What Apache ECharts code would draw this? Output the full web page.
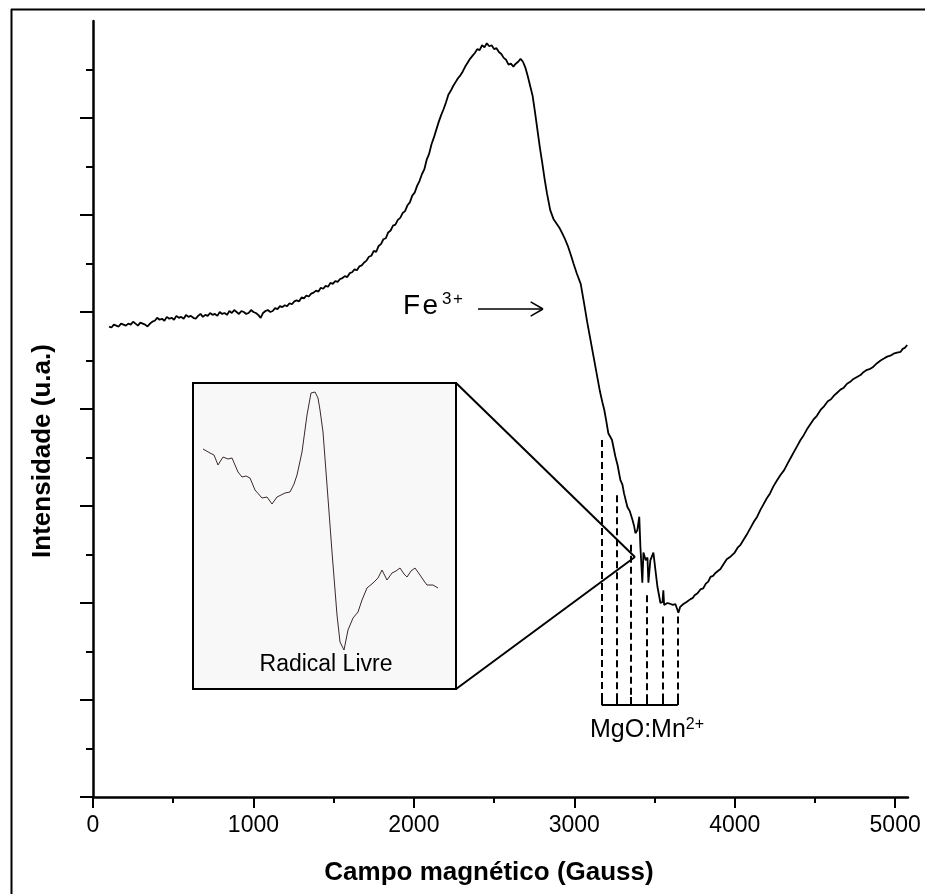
<!DOCTYPE html>
<html>
<head>
<meta charset="utf-8">
<script src="https://cdn.jsdelivr.net/npm/echarts@6/dist/echarts.min.js"></script>
<style>
html,body{margin:0;padding:0;background:#fff;}
#chart{width:925px;height:894px;}
</style>
</head>
<body>
<div id="chart"></div>
<script>
// Main EPR spectrum, split in segments: magnetic field (Gauss) / intensity (a.u.)
var baseField = [100,115,130,145,160,175,190,205,220,235,250,265,280,295,310,325,340,355,370,385,400,415,430,445,460,475,490,505,520,535,550,565,580,595,610,625,640,655,670,685,700,715,730,745,760,775,790,805,820,835,850,865,880,895,910,925,940,955,970,985,1000,1015,1030,1045,1060,1075,1090,1105,1120,1135,1150,1165,1180,1195,1210,1225,1240,1255,1270,1285,1300,1315,1330,1345,1360,1375,1390,1405,1420,1435,1450,1465,1480,1495,1510,1525,1540,1555,1570,1585,1600,1615,1630,1645,1660,1675,1690,1705,1720,1735,1750,1765,1780,1795,1810,1825,1840,1855,1870,1885,1900];
var baseIntensity = [4.85,4.84,4.87,4.86,4.85,4.88,4.87,4.86,4.88,4.87,4.90,4.88,4.86,4.89,4.88,4.87,4.85,4.88,4.90,4.91,4.94,4.92,4.93,4.91,4.95,4.93,4.94,4.92,4.96,4.94,4.95,4.93,4.97,4.95,4.96,4.94,4.93,4.96,4.98,4.95,4.97,4.96,4.99,4.97,4.98,4.96,5.00,4.98,4.99,4.97,5.01,4.99,5.02,5.00,4.98,5.01,5.00,4.98,4.99,5.02,5.00,4.99,4.97,4.94,4.99,5.01,5.02,5.00,5.01,5.04,5.03,5.06,5.05,5.07,5.06,5.09,5.08,5.11,5.12,5.11,5.15,5.14,5.17,5.16,5.19,5.20,5.22,5.21,5.25,5.24,5.27,5.26,5.30,5.29,5.32,5.31,5.34,5.35,5.37,5.36,5.40,5.41,5.44,5.43,5.47,5.48,5.51,5.53,5.57,5.58,5.63,5.62,5.68,5.70,5.75,5.76,5.82,5.84,5.89,5.90,5.95];

var peakField = [1915,1930,1945,1960,1975,1990,2005,2020,2035,2050,2065,2080,2095,2110,2125,2140,2155,2170,2185,2200,2215,2230,2245,2260,2275,2290,2305,2320,2335,2350,2365,2380,2395,2410,2425,2440,2455,2470,2485,2500,2515,2530,2545,2560,2575,2590,2605,2620,2635,2650,2665,2680,2695,2710,2725,2740,2755,2770,2785,2800,2815,2830,2850,2870,2890,2910,2925,2940,2960,2980,2995,3015,3040,3060,3080,3100,3120,3140,3160,3175,3187,3200,3212];
var peakIntensity = [5.97,6.02,6.04,6.10,6.13,6.20,6.23,6.30,6.35,6.42,6.47,6.57,6.63,6.73,6.80,6.88,6.96,7.03,7.09,7.16,7.24,7.28,7.33,7.37,7.41,7.44,7.48,7.53,7.57,7.61,7.64,7.67,7.71,7.70,7.75,7.73,7.77,7.74,7.75,7.71,7.72,7.68,7.66,7.62,7.60,7.55,7.56,7.53,7.56,7.58,7.61,7.58,7.52,7.43,7.33,7.23,7.06,6.88,6.70,6.54,6.37,6.22,6.05,5.96,5.91,5.86,5.81,5.76,5.68,5.58,5.50,5.40,5.29,5.10,4.90,4.72,4.54,4.36,4.18,4.07,3.99,3.87,3.75];

var mnField = [3235,3256,3270,3287,3300,3310,3331,3345,3362,3372,3381,3393,3405,3412,3424,3431,3445,3456,3462,3474,3493,3505,3518,3537,3550,3555,3560,3580,3600,3615,3630,3649];
var mnIntensity = [3.68,3.51,3.42,3.27,3.22,3.13,2.99,2.95,2.86,2.80,2.72,2.75,2.89,2.58,2.21,2.52,2.44,2.47,2.21,2.44,2.52,2.35,2.17,2.00,2.01,2.13,1.98,2.00,1.99,1.98,1.99,1.90];

var tailField = [3660,3680,3700,3712,3724,3737,3750,3768,3786,3803,3820,3835,3849,3865,3880,3895,3911,3930,3950,3975,4000,4018,4036,4058,4080,4100,4120,4140,4160,4180,4200,4220,4240,4262,4285,4308,4330,4350,4370,4390,4410,4430,4450,4470,4490,4512,4535,4558,4580,4600,4620,4640,4659,4680,4700,4720,4740,4762,4784,4802,4820,4840,4860,4885,4909,4930,4950,4970,4990,5012,5034,5047,5060,5075];
var tailIntensity = [1.96,1.99,2.01,1.99,2.04,2.05,2.08,2.10,2.14,2.15,2.20,2.22,2.27,2.28,2.31,2.33,2.35,2.40,2.45,2.48,2.52,2.57,2.60,2.66,2.72,2.78,2.84,2.89,2.96,3.02,3.08,3.13,3.20,3.26,3.32,3.37,3.44,3.50,3.56,3.62,3.68,3.73,3.79,3.84,3.89,3.93,3.99,4.03,4.08,4.10,4.14,4.17,4.20,4.22,4.26,4.28,4.31,4.33,4.35,4.38,4.40,4.41,4.43,4.47,4.50,4.52,4.54,4.55,4.57,4.58,4.59,4.62,4.63,4.66];

// Inset (free radical) signal, arbitrary units
var insetX = [10,17,21,25,30,35,39,45,49,53,57,62,69,74,79,84,88,92,97,101,104,109,114,118,122,125,127,130,134,139,144,147,151,155,160,165,169,174,180,185,189,194,199,203,207,211,214,218,222,227,231,234,240,245];
var insetY = [240,236,234,224,232,230,231,217,212,213,211,199,191,192,185,192,194,196,197,205,214,237,274,296,297,291,279,257,204,137,74,47,39,59,71,77,89,101,106,111,119,109,116,118,121,115,112,118,121,114,108,104,104,101];

// Axis ticks
var xMajorTicks = [0,1000,2000,3000,4000,5000];
var xMinorTicks = [500,1500,2500,3500,4500];
var yMajorTicks = [0,1,2,3,4,5,6,7];
var yMinorTicks = [0.5,1.5,2.5,3.5,4.5,5.5,6.5,7.5];

// Mn2+ hyperfine line positions (Gauss) and top of each dashed marker
var mnLines = [3171,3266,3354,3454,3549,3645];
var mnTops = [3.68,3.11,2.60,2.08,1.86,1.86];

function pairs(xs, ys){ return xs.map(function(x,i){return [x, ys[i]];}); }
var mainData = [].concat(pairs(baseField, baseIntensity), pairs(peakField, peakIntensity), pairs(mnField, mnIntensity), pairs(tailField, tailIntensity));
var insetData = pairs(insetX, insetY);

var mlines = [];
var dashStyle = {type:[7,4], width:2, color:'#000'};
var solid = {type:'solid', width:2, color:'#000'};
mnLines.forEach(function(x,i){
  mlines.push([{coord:[x,mnTops[i]], lineStyle:dashStyle},{coord:[x,1.03]}]);
  mlines.push([{coord:[x,1.03], lineStyle:solid},{coord:[x,0.948]}]);
});
mlines.push([{coord:[mnLines[0],0.948], lineStyle:solid},{coord:[mnLines[5],0.948]}]);
// Zoom connector lines from inset to spectrum
mlines.push([{coord:[2263,4.268], lineStyle:solid},{coord:[3378,2.474]}]);
mlines.push([{coord:[2263,1.113], lineStyle:solid},{coord:[3378,2.474]}]);
// Fe3+ arrow
var thin = {type:'solid', width:1.5, color:'#000'};
mlines.push([{coord:[2400,5.031], lineStyle:thin},{coord:[2805,5.031]}]);
mlines.push([{coord:[2728,5.105], lineStyle:thin},{coord:[2805,5.031]}]);
mlines.push([{coord:[2728,4.957], lineStyle:thin},{coord:[2805,5.031]}]);

var FONT = '"Liberation Sans", Arial, sans-serif';
var chart = echarts.init(document.getElementById('chart'), null, {renderer:'canvas'});
var axisCommonY = {type:'value', min:0, max:8, position:'left', offset:0, splitLine:{show:false}, axisLabel:{show:false}};
var axisCommonX = {type:'value', min:0, max:5080, position:'bottom', offset:0, splitLine:{show:false}};
chart.setOption({
  animation:false,
  backgroundColor:'#fff',
  grid:[
    {left:93, right:17, top:21, bottom:97, show:false},
    {left:193, top:383, width:263, height:306, show:true, backgroundColor:'#f8f8f8', borderColor:'#000', borderWidth:2}
  ],
  xAxis:[
    Object.assign({}, axisCommonX, {gridIndex:0, interval:1000,
      axisLine:{show:true, lineStyle:{color:'#000', width:2.5}},
      axisTick:{show:true, customValues:xMajorTicks, length:11, lineStyle:{color:'#000', width:2}},
      axisLabel:{show:true, customValues:xMajorTicks, fontSize:23, color:'#000', margin:17, fontFamily:FONT,
        formatter:function(v){return String(v);}}}),
    Object.assign({}, axisCommonX, {gridIndex:0, interval:1000,
      axisLine:{show:false},
      axisTick:{show:true, customValues:xMinorTicks, length:6, lineStyle:{color:'#000', width:2}},
      axisLabel:{show:false}}),
    {type:'value', gridIndex:1, min:0, max:263, show:false, splitLine:{show:false}}
  ],
  yAxis:[
    Object.assign({}, axisCommonY, {gridIndex:0, interval:1,
      axisLine:{show:true, lineStyle:{color:'#000', width:2.5}},
      axisTick:{show:true, customValues:yMajorTicks, length:13, lineStyle:{color:'#000', width:2}}}),
    Object.assign({}, axisCommonY, {gridIndex:0, interval:1,
      axisLine:{show:false},
      axisTick:{show:true, customValues:yMinorTicks, length:7, lineStyle:{color:'#000', width:2}}}),
    {type:'value', gridIndex:1, min:0, max:306, show:false, splitLine:{show:false}}
  ],
  series:[
    {type:'line', xAxisIndex:0, yAxisIndex:0, data:mainData, showSymbol:false, symbol:'none',
     lineStyle:{color:'#000', width:1.8}, silent:true, z:3,
     markLine:{silent:true, symbol:['none','none'], label:{show:false}, animation:false, data:mlines}},
    {type:'line', xAxisIndex:2, yAxisIndex:2, data:insetData, showSymbol:false, symbol:'none',
     lineStyle:{color:'#3a2a2a', width:1}, silent:true, z:3}
  ],
  graphic:[
    {type:'line', shape:{x1:11.5,y1:9,x2:11.5,y2:894}, style:{stroke:'#000', lineWidth:2}, silent:true},
    {type:'line', shape:{x1:11,y1:9.5,x2:925,y2:9.5}, style:{stroke:'#000', lineWidth:2}, silent:true},
    {type:'text', x:489, y:873, style:{text:'Campo magnético (Gauss)', font:'bold 26px '+FONT, fill:'#000', align:'center', verticalAlign:'middle'}, silent:true},
    {type:'text', x:43, y:451, rotation:Math.PI/2, style:{text:'Intensidade (u.a.)', font:'bold 26px '+FONT, fill:'#000', align:'center', verticalAlign:'middle'}, silent:true},
    {type:'text', x:403, y:291, style:{text:'{a|F\u200Ae}{b|3\u200A+}', align:'left', verticalAlign:'top',
      rich:{a:{fontSize:28, fontFamily:FONT, color:'#000', lineHeight:30}, b:{fontSize:17, fontFamily:FONT, color:'#000', verticalAlign:'top', lineHeight:17, padding:[0,0,0,4]}}}, silent:true},
    {type:'text', x:647, y:717, style:{text:'{a|MgO:Mn}{b|2+}', align:'center', verticalAlign:'top',
      rich:{a:{fontSize:25, fontFamily:FONT, color:'#000', lineHeight:27}, b:{fontSize:16, fontFamily:FONT, color:'#000', verticalAlign:'top', lineHeight:16}}}, silent:true},
    {type:'text', x:326, y:665, style:{text:'Radical Livre', font:'23px '+FONT, fill:'#000', align:'center', verticalAlign:'middle'}, silent:true}
  ]
});
</script>
</body>
</html>
